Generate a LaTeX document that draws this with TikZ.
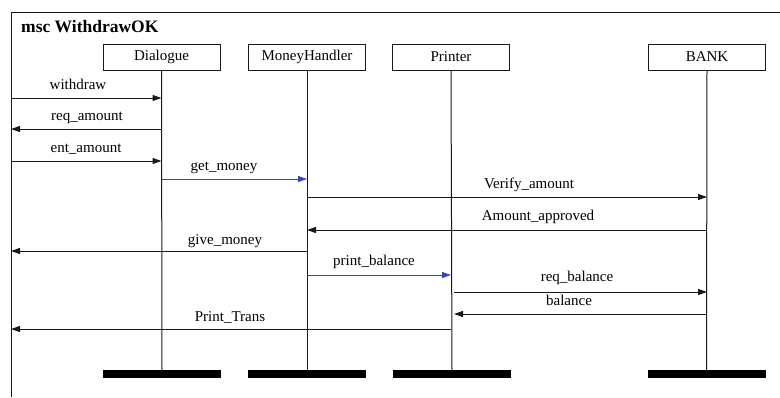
\documentclass[tikz,border=0pt]{standalone}
\usepackage{fontspec}
\setmainfont{Liberation Serif}
\usetikzlibrary{arrows.meta}
\definecolor{ink}{RGB}{25,25,25}
\definecolor{msgblue}{RGB}{64,64,208}
\begin{document}
\begin{tikzpicture}[x=1pt,y=-1pt,
  txt/.style={font=\rmfamily\fontsize{15}{17}\selectfont},
  inst/.style={txt,draw=ink,line width=1pt,minimum width=117pt,minimum height=26pt,inner sep=0pt},
  endbar/.style={fill=black,minimum width=118pt,minimum height=8pt,inner sep=0pt},
  life/.style={draw=ink,line width=1pt},
  msg/.style={draw=ink,line width=1pt,-{Triangle[length=9pt,width=6pt]}},
  bmsg/.style={msg,draw=msgblue},
  lbl/.style={txt,anchor=base,inner sep=0pt}]
\useasboundingbox (0,0) rectangle (780,397);

% diagram frame (open to the right and bottom)
\coordinate (env) at (11,12);
\draw[ink,line width=1pt] (780,12) -- (env) -- (11,397);
\node[anchor=base west,inner sep=0pt,font=\rmfamily\fontsize{17.5}{19}\selectfont\bfseries] (title) at (21,32) {msc WithdrawOK};

% instances
\node[inst] (dlg)  at (161.5,57) {Dialogue};
\node[inst] (mh)   at (307,57)   {MoneyHandler};
\node[inst] (prn)  at (451,57)   {Printer};
\node[inst] (bank) at (707,57)   {BANK};

% instance ends
\node[endbar] (dlgend)  at (162,374)   {};
\node[endbar] (mhend)   at (307,374)   {};
\node[endbar] (prnend)  at (452,374)   {};
\node[endbar] (bankend) at (706.5,374) {};

% lifelines
\draw[life] (dlg.south)  -- (dlgend.north);
\draw[life] (mh.south)   -- (mhend.north);
\draw[life] (prn.south)  -- (prnend.north);
\draw[life] (bank.south) -- (bankend.north);

% messages
\draw[msg]  (env |- 0,98)  -- (dlg |- 0,98);
\node[lbl] (l1) at (78,89) {withdraw};
\draw[msg]  (dlg |- 0,129) -- (env |- 0,129);
\node[lbl] (l2) at (87,120) {req\_amount};
\draw[msg]  (env |- 0,161) -- (dlg |- 0,161);
\node[lbl] (l3) at (86,152) {ent\_amount};
\draw[bmsg] (dlg |- 0,179) -- (mh |- 0,179);
\node[lbl] (l4) at (224,170) {get\_money};
\draw[msg]  (mh |- 0,197) -- (bank |- 0,197);
\node[lbl] (l5) at (529,188) {Verify\_amount};
\draw[msg]  (bank |- 0,230) -- (mh |- 0,230);
\node[lbl] (l6) at (538,220) {Amount\_approved};
\draw[msg]  (mh |- 0,251) -- (env |- 0,251);
\node[lbl] (l7) at (225,244) {give\_money};
\draw[bmsg] (mh |- 0,275) -- (prn |- 0,275);
\node[lbl] (l8) at (374,265) {print\_balance};
\draw[msg]  ([xshift=3pt]prn |- 0,292) -- (bank |- 0,292);
\node[lbl] (l9) at (577,281) {req\_balance};
\draw[msg]  (bank |- 0,314) -- ([xshift=3pt]prn |- 0,314);
\node[lbl] (l10) at (569,305) {balance};
\draw[msg]  (prn |- 0,329) -- (env |- 0,329);
\node[lbl] (l11) at (230,321) {Print\_Trans};
\end{tikzpicture}
\end{document}
